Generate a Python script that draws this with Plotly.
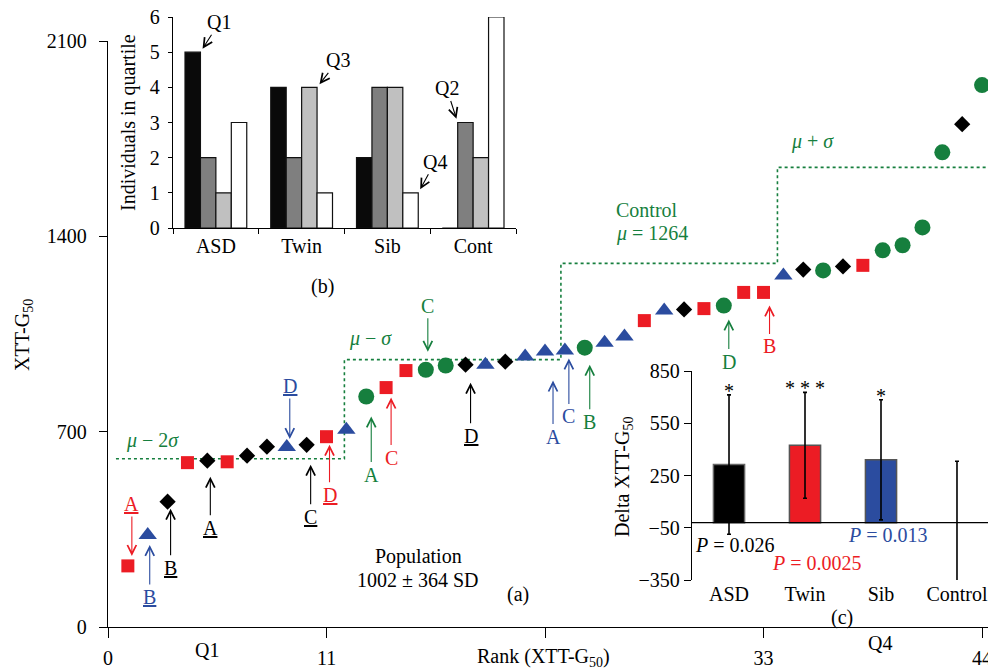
import plotly.graph_objects as go

W, H = 988, 670
FONT = "Liberation Serif"
FS = 20
RED = "#EC1C24"
BLUE = "#2B4C9F"
GREEN = "#167F3E"
BLACK = "#000000"

# ---------------- (a) main ranked scatter ----------------
asd_rank = [3, 5, 7, 8, 10, 18, 20, 29, 35, 37, 43]
asd_val = [449, 596, 614, 646, 653, 940, 951, 1138, 1281, 1292, 1802]
twin_rank = [1, 4, 6, 11, 14, 15, 27, 30, 32, 33, 38]
twin_val = [219, 589, 592, 682, 858, 919, 1098, 1141, 1199, 1199, 1296]
sib_rank = [2, 9, 12, 19, 21, 22, 23, 25, 26, 28, 34]
sib_val = [330, 645, 707, 940, 969, 987, 991, 1019, 1041, 1134, 1260]
ctrl_rank = [13, 16, 17, 24, 31, 36, 39, 40, 41, 42, 44]
ctrl_val = [826, 922, 937, 1001, 1152, 1278, 1350, 1368, 1432, 1701, 1942]

# control mean / SD step line (mu-2sd, mu-sd, mu, mu+sd) and its rank boundaries
ctrl_levels = [603, 958, 1303, 1647]
ctrl_bounds = [0.4, 11.9, 22.8, 33.7, 44.3]

main_xticks = [0, 11, 22, 33, 44]
main_xticktext = ["0", "11", "", "33", "44"]
main_yticks = [0, 700, 1400, 2100]

# ---------------- (b) quartile counts ----------------
b_groups = ["ASD", "Twin", "Sib", "Cont"]
b_q1 = [5, 4, 2, 0]
b_q2 = [2, 2, 4, 3]
b_q3 = [1, 4, 4, 2]
b_q4 = [3, 1, 1, 6]
b_colors = ["#0A0A0A", "#7F7F7F", "#C0C0C0", "#FFFFFF"]

# ---------------- (c) delta XTT-G50 ----------------
c_groups = ["ASD", "Twin", "Sib", "Control"]
c_mean = [313, 423, 340, -16]
c_err = [400, 304, 345, 348]
c_stars = ["*", "* * *", "*", ""]
c_base = -21
c_yticks = [-350, -50, 250, 550, 850]


def PX(x):
    return x / W


def PY(y):
    return 1 - y / H


fig = go.Figure()

# step line
fig.add_trace(go.Scatter(
    x=ctrl_bounds, y=ctrl_levels + [ctrl_levels[-1]], mode="lines", line_shape="hv",
    line=dict(color=GREEN, width=1.6, dash="dot"), xaxis="x", yaxis="y", showlegend=False,
    hoverinfo="skip"))

groups = [
    (twin_rank, twin_val, "square", 13, RED),
    (sib_rank, sib_val, "triangle-up", 16, BLUE),
    (asd_rank, asd_val, "diamond", 12.5, BLACK),
    (ctrl_rank, ctrl_val, "circle", 16, GREEN),
]
for r, v, sym, sz, col in groups:
    fig.add_trace(go.Scatter(
        x=r, y=v, mode="markers", xaxis="x", yaxis="y", showlegend=False, cliponaxis=False,
        marker=dict(symbol=sym, size=sz, color=col, line=dict(width=0))))

# inset (b)
for vals, col, name in zip([b_q1, b_q2, b_q3, b_q4], b_colors, ["Q1", "Q2", "Q3", "Q4"]):
    fig.add_trace(go.Bar(
        x=b_groups, y=vals, name=name, xaxis="x2", yaxis="y2", showlegend=False,
        marker=dict(color=col, line=dict(color="#111111", width=1.2))))

# inset (c)
c_bar_colors = [BLACK, RED, BLUE, "rgba(0,0,0,0)"]
c_line_colors = ["#666666", "#555555", "#555555", "rgba(0,0,0,0)"]
fig.add_trace(go.Bar(
    x=c_groups, y=[m - c_base if g != "Control" else 0 for m, g in zip(c_mean, c_groups)],
    base=c_base, width=0.41, xaxis="x3", yaxis="y3", showlegend=False,
    marker=dict(color=c_bar_colors, line=dict(color=c_line_colors, width=1.5))))
fig.add_trace(go.Scatter(
    x=c_groups, y=c_mean, mode="markers", xaxis="x3", yaxis="y3", showlegend=False,
    marker=dict(size=1, opacity=0),
    error_y=dict(type="data", array=c_err, color=BLACK, thickness=1.6, width=2)))

ann = []
tf = dict(family=FONT, size=FS, color=BLACK)

# arrows in (a): label, colour, underline, target rank, xshift(px), standoff(px), text offset(px)
main_arrows = [
    ("A", RED, True, 1, 4, 10, -62),
    ("B", BLUE, True, 2, 2, 10, 62),
    ("B", BLACK, True, 3, 3, 7, 66),
    ("A", BLACK, True, 5, 3, 16, 67),
    ("D", BLUE, True, 9, 3, 8, -61),
    ("C", BLACK, True, 10, 4, 20, 72),
    ("D", RED, True, 11, 3, 8, 58),
    ("A", GREEN, False, 13, 5, 20, 78),
    ("C", RED, False, 14, 5, 10, 70),
    ("C", GREEN, False, 16, 2, 18, -64),
    ("D", BLACK, True, 18, 5, 18, 71),
    ("A", BLUE, False, 22, 8, 29, 85),
    ("C", BLUE, False, 23, 4, 8, 66),
    ("B", GREEN, False, 24, 5, 17, 74),
    ("D", GREEN, False, 31, 5, 14, 56),
    ("B", RED, False, 33, 6, 13, 54),
]
lookup = {}
for r, v, *_ in groups:
    for a, b in zip(r, v):
        lookup[a] = b
for lab, col, ul, rk, xs, so, ay in main_arrows:
    txt = "<u>%s</u>" % lab if ul else lab
    ann.append(dict(x=rk, y=lookup[rk], xref="x", yref="y", text=txt, showarrow=True,
                    ax=0, ay=ay, xshift=xs, standoff=so, arrowhead=5, arrowsize=1.6,
                    arrowwidth=1.1, arrowcolor=col, font=dict(family=FONT, size=FS, color=col)))

# quartile arrows in (b): label, group, quartile, side, ax, ay
bar_w = (1 - 0.28) / 4
b_arrows = [("Q1", 0, 0, 1, 19, -30), ("Q3", 1, 2, 1, 21, -27),
            ("Q2", 3, 1, 0, -11, -34), ("Q4", 2, 3, 1, 17, -31)]
b_all = [b_q1, b_q2, b_q3, b_q4]
for lab, g, q, side, ax, ay in b_arrows:
    xe = g - 2 * bar_w + bar_w * (q + side)
    ann.append(dict(x=xe, y=b_all[q][g], xref="x2", yref="y2", text=lab, showarrow=True,
                    ax=ax, ay=ay, standoff=4, arrowhead=5, arrowsize=1.6, arrowwidth=1.1,
                    arrowcolor=BLACK, font=tf))

# stars in (c)
for i, s in enumerate(c_stars):
    if s:
        ann.append(dict(x=i, y=c_mean[i] + c_err[i], xref="x3", yref="y3", text=s,
                        showarrow=False, yanchor="bottom", yshift=-9, font=tf))


def ptext(text, x, y, color=BLACK, angle=0, xanchor="center"):
    ann.append(dict(x=PX(x), y=PY(y), xref="paper", yref="paper", text=text, showarrow=False,
                    textangle=angle, xanchor=xanchor, yanchor="middle",
                    font=dict(family=FONT, size=FS, color=color)))


ptext("<i>μ</i> − 2<i>σ</i>", 152, 440, GREEN)
ptext("<i>μ</i> − <i>σ</i>", 370, 338, GREEN)
ptext("Control", 614, 210, GREEN, xanchor="left")
ptext("<i>μ</i> = 1264", 614, 233, GREEN, xanchor="left")
ptext("<i>μ</i> + <i>σ</i>", 812, 141, GREEN)
ptext("Population", 418, 556)
ptext("1002 ± 364 SD", 418, 580)
ptext("(a)", 518, 594)
ptext("(b)", 322, 287)
ptext("(c)", 842, 617)
ptext("Q1", 207, 650)
ptext("Q4", 880, 643)
ptext("Rank (XTT-G<sub>50</sub>)", 543, 657)
ptext("XTT-G<sub>50</sub>", 23, 335, angle=-90)
ptext("Individuals in quartile", 128, 123, angle=-90)
ptext("Delta XTT-G<sub>50</sub>", 623, 477, angle=-90)
ptext("<i>P</i> = 0.026", 735, 545)
ptext("<i>P</i> = 0.0025", 817, 563, RED)
ptext("<i>P</i> = 0.013", 888, 535, BLUE)

axfont = dict(family=FONT, size=FS, color=BLACK)
common = dict(showgrid=False, zeroline=False, linecolor=BLACK, tickcolor=BLACK,
              tickfont=axfont, automargin=False, ticklabeloverflow="allow")

fig.update_layout(
    width=W, height=H, margin=dict(l=0, r=0, t=0, b=0),
    paper_bgcolor="white", plot_bgcolor="rgba(0,0,0,0)",
    font=dict(family=FONT, size=FS, color=BLACK),
    barmode="group", bargap=0.28, bargroupgap=0,
    annotations=ann,
    xaxis=dict(domain=[PX(108), 1], range=[0, 44.3], anchor="y", showline=True, linewidth=1.3,
               ticks="outside", ticklen=10, tickwidth=1.3, tickvals=main_xticks,
               ticktext=main_xticktext, ticklabelstandoff=3, **common),
    yaxis=dict(domain=[PY(627), PY(41)], range=[0, 2100], anchor="x", showline=True,
               linewidth=1.3, ticks="outside", ticklen=8, tickwidth=1.3, tickvals=main_yticks,
               ticklabelstandoff=8, **common),
    xaxis2=dict(domain=[PX(173), PX(516)], range=[-0.5, 3.5], anchor="y2", type="category",
                categoryorder="array", categoryarray=b_groups, showline=True, linewidth=1.3,
                ticks="outside", ticklen=5, tickson="boundaries", **common),
    yaxis2=dict(domain=[PY(228), PY(17)], range=[0, 6], anchor="x2", showline=True,
                linewidth=1.3, ticks="outside", ticklen=4, dtick=1, ticklabelstandoff=4,
                **common),
    xaxis3=dict(domain=[PX(692), 1], range=[-0.487, 3.408], anchor="y3", type="category",
                categoryorder="array", categoryarray=c_groups, showline=False, ticks="",
                **common),
    yaxis3=dict(domain=[PY(580), PY(371)], range=[-350, 850], anchor="x3", showline=True,
                linewidth=1.3, ticks="outside", ticklen=7, tickvals=c_yticks, **common),
    shapes=[dict(type="line", xref="x3 domain", yref="y3", x0=0, x1=1, y0=c_base, y1=c_base,
                 line=dict(color=BLACK, width=1.3))],
)

fig.write_html(
    "out.html",
    config={"displayModeBar": False},
    post_script="document.body.style.margin='0';document.body.style.overflow='hidden';",
)
